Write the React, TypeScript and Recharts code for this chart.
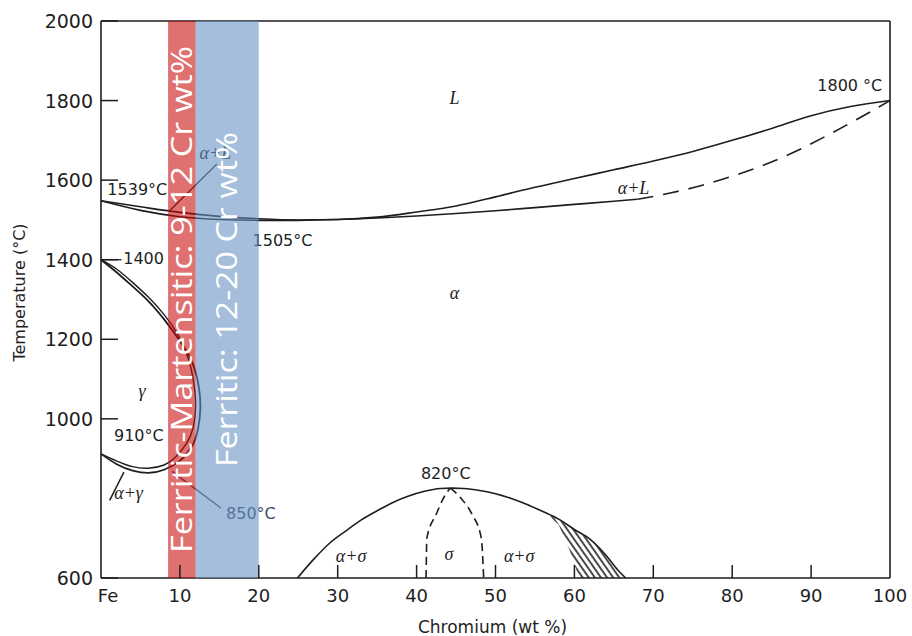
import { ComposedChart, Line, Area, Scatter, XAxis, YAxis, ReferenceArea, ReferenceLine, Label } from "recharts";

// axis ticks (the source has no 800 label)
const xTicks = [0, 10, 20, 30, 40, 50, 60, 70, 80, 90, 100];
const yTicks = [600, 1000, 1200, 1400, 1600, 1800, 2000];

// liquidus (upper L / alpha+L boundary)
const liquidus = [
  { cr: 0, t: 1548 }, { cr: 5, t: 1533 }, { cr: 10, t: 1519 }, { cr: 15, t: 1509 },
  { cr: 20, t: 1503 }, { cr: 25, t: 1500 }, { cr: 30, t: 1501 }, { cr: 35, t: 1507 },
  { cr: 40, t: 1520 }, { cr: 45, t: 1535 }, { cr: 50, t: 1558 }, { cr: 55, t: 1582 },
  { cr: 60, t: 1604 }, { cr: 65, t: 1626 }, { cr: 70, t: 1648 }, { cr: 75, t: 1672 },
  { cr: 80, t: 1700 }, { cr: 85, t: 1730 }, { cr: 90, t: 1762 }, { cr: 95, t: 1785 },
  { cr: 100, t: 1800 },
];

// solidus, measured part
const solidus = [
  { cr: 0, t: 1548 }, { cr: 5, t: 1524 }, { cr: 10, t: 1508 }, { cr: 15, t: 1501 },
  { cr: 20, t: 1499 }, { cr: 25, t: 1499 }, { cr: 30, t: 1501 }, { cr: 35, t: 1505 },
  { cr: 40, t: 1510 }, { cr: 45, t: 1516 }, { cr: 50, t: 1523 }, { cr: 55, t: 1531 },
  { cr: 60, t: 1539 }, { cr: 65, t: 1547 }, { cr: 68, t: 1552 },
];

// solidus, estimated part (dashed)
const solidusEst = [
  { cr: 68, t: 1552 }, { cr: 72, t: 1567 }, { cr: 76, t: 1586 }, { cr: 80, t: 1610 },
  { cr: 84, t: 1638 }, { cr: 88, t: 1672 }, { cr: 92, t: 1712 }, { cr: 96, t: 1755 },
  { cr: 100, t: 1800 },
];

// gamma loop, two boundaries
const gammaOuter = [
  { cr: 0, t: 1400 }, { cr: 2, t: 1368 }, { cr: 4, t: 1333 }, { cr: 6, t: 1296 },
  { cr: 8, t: 1250 }, { cr: 10, t: 1196 }, { cr: 11.6, t: 1140 }, { cr: 12.4, t: 1080 },
  { cr: 12.6, t: 1030 }, { cr: 12.3, t: 975 }, { cr: 11.5, t: 930 }, { cr: 10, t: 895 },
  { cr: 8, t: 872 }, { cr: 6, t: 864 }, { cr: 4, t: 870 }, { cr: 2, t: 886 }, { cr: 0, t: 912 },
];
const gammaInner = [
  { cr: 0, t: 1400 }, { cr: 2, t: 1376 }, { cr: 4, t: 1343 }, { cr: 6, t: 1306 },
  { cr: 8, t: 1262 }, { cr: 9.8, t: 1210 }, { cr: 11.1, t: 1150 }, { cr: 11.8, t: 1085 },
  { cr: 12, t: 1030 }, { cr: 11.7, t: 980 }, { cr: 10.9, t: 940 }, { cr: 9.5, t: 905 },
  { cr: 8, t: 884 }, { cr: 6, t: 876 }, { cr: 4, t: 880 }, { cr: 2, t: 894 }, { cr: 0, t: 912 },
];

// sigma dome
const sigmaDome = [
  { cr: 24.9, t: 600 }, { cr: 27, t: 648 }, { cr: 29, t: 688 }, { cr: 31, t: 718 },
  { cr: 33, t: 746 }, { cr: 35, t: 769 }, { cr: 37, t: 790 }, { cr: 39, t: 806 },
  { cr: 41, t: 818 }, { cr: 43, t: 825 }, { cr: 44.5, t: 826 }, { cr: 46, t: 825 },
  { cr: 48, t: 820 }, { cr: 50, t: 812 }, { cr: 52, t: 800 }, { cr: 54, t: 785 },
  { cr: 56, t: 767 }, { cr: 58, t: 748 }, { cr: 60, t: 722 }, { cr: 62, t: 697 },
  { cr: 64, t: 657 }, { cr: 65.5, t: 620 }, { cr: 66.5, t: 600 },
];
const sigmaLeft = [
  { cr: 41.2, t: 600 }, { cr: 41.3, t: 700 }, { cr: 42.5, t: 761 }, { cr: 43.7, t: 811 }, { cr: 44.3, t: 826 },
];
const sigmaRight = [
  { cr: 44.3, t: 826 }, { cr: 45.6, t: 801 }, { cr: 47, t: 761 }, { cr: 48.2, t: 700 }, { cr: 48.5, t: 600 },
];
const sigmaHatch = [
  { cr: 56, range: [767, 767] }, { cr: 57, range: [752, 757] }, { cr: 58, range: [734, 748] },
  { cr: 59.3, range: [675, 732] }, { cr: 60.6, range: [600, 714] }, { cr: 62, range: [600, 697] },
  { cr: 64, range: [600, 657] }, { cr: 65.5, range: [600, 620] }, { cr: 66.5, range: [600, 600] },
];

// leader lines
const leader1400 = [{ cr: 0, t: 1400 }, { cr: 2.6, t: 1400 }];
const leaderAlphaL = [{ cr: 8.7, t: 1523 }, { cr: 14.7, t: 1641 }];
const leaderAlphaGamma = [{ cr: 1.1, t: 795 }, { cr: 2.9, t: 866 }];
const leader850 = [{ cr: 9, t: 868 }, { cr: 15.2, t: 776 }];

// labels
const tempLabels = [
  { cr: 4.6, t: 1576, text: "1539°C" },
  { cr: 23, t: 1448, text: "1505°C" },
  { cr: 5.4, t: 1404, text: "1400" },
  { cr: 4.8, t: 958, text: "910°C" },
  { cr: 43.7, t: 862, text: "820°C" },
  { cr: 94.9, t: 1838, text: "1800 °C" },
];
const tintLabels = [{ cr: 19, t: 761, text: "850°C" }];
const phaseLabels = [
  { cr: 44.8, t: 1807, text: "L" },
  { cr: 44.8, t: 1317, text: "α" },
  { cr: 5.2, t: 1071, text: "γ" },
  { cr: 67.5, t: 1581, text: "α+L" },
  { cr: 14.5, t: 1669, text: "α+L" },
  { cr: 3.5, t: 813, text: "α+γ" },
  { cr: 44.1, t: 660, text: "σ" },
  { cr: 31.7, t: 655, text: "α+σ" },
  { cr: 53, t: 655, text: "α+σ" },
];

const bands = [
  { from: 8.5, to: 12, color: "#c80a0a", text: "Ferritic-Martensitic: 9-12 Cr wt%", len: 507 },
  { from: 12, to: 20, color: "#648fc3", text: "Ferritic: 12-20 Cr wt%", len: 335 },
];

const INK = "#1e1e1e";
const SANS = "'DejaVu Sans', sans-serif";

const YTick = (p: any) => (
  <g>
    <text x={p.x} y={p.y} textAnchor="end" dominantBaseline="central" fontFamily={SANS} fontSize={19} fill={INK}>
      {p.payload.value}
    </text>
    <line x1={p.x + 8} x2={p.x + 25} y1={p.y} y2={p.y} stroke={INK} strokeWidth={1.5} />
  </g>
);

const XTick = (p: any) => {
  const v = p.payload.value;
  return (
    <g>
      <text x={p.x + (v === 0 ? 7 : 0)} y={p.y + 17} textAnchor="middle" dominantBaseline="central" fontFamily={SANS} fontSize={18} fill={INK}>
        {v === 0 ? "Fe" : v}
      </text>
      {v > 0 && v < 100 && <line x1={p.x} x2={p.x} y1={p.y} y2={p.y - 13} stroke={INK} strokeWidth={1.5} />}
    </g>
  );
};

const tempMark = (color: string) => (p: any) => (
  <text x={p.cx} y={p.cy} textAnchor="middle" dominantBaseline="central" fontFamily={SANS} fontSize={16} fill={color}>
    {p.payload.text}
  </text>
);

const phaseMark = (p: any) => (
  <text x={p.cx} y={p.cy} textAnchor="middle" dominantBaseline="central" fontFamily="'Liberation Serif', serif" fontStyle="italic" fontSize={18} fill={INK}>
    {p.payload.text}
  </text>
);

const bandText = (text: string, len: number) => (p: any) => {
  const vb = p.viewBox;
  const cx = vb.x + vb.width / 2 + 10;
  const cy = vb.y + vb.height / 2;
  return (
    <text x={cx} y={cy} transform={`rotate(-90 ${cx} ${cy})`} textAnchor="middle" fontFamily="'Open Sans', sans-serif" fontSize={29} fill="#fff" textLength={len} lengthAdjust="spacingAndGlyphs">
      {text}
    </text>
  );
};

export default function App() {
  const curve = { dot: false, activeDot: false, isAnimationActive: false, dataKey: "t", stroke: INK, strokeWidth: 1.6 } as any;
  return (
    <div style={{ position: "absolute", left: 0, top: 0, width: 912, height: 636, background: "#fff" }}>
      <ComposedChart width={912} height={636} margin={{ top: 21, right: 22, bottom: 20, left: 0 }}>
        <defs>
          <pattern id="hatch" width="5" height="5" patternUnits="userSpaceOnUse" patternTransform="rotate(-35)">
            <line x1="1" y1="0" x2="1" y2="5" stroke={INK} strokeWidth="1.6" />
          </pattern>
        </defs>
        <XAxis type="number" dataKey="cr" domain={[0, 100]} ticks={xTicks} height={38} tickSize={0} tickMargin={0}
          tick={<XTick />} axisLine={{ stroke: INK, strokeWidth: 1.6 }} tickLine={false}>
          <Label content={(p: any) => (
            <text x={p.viewBox.x + p.viewBox.width / 2 - 3} y={p.viewBox.y + 49} textAnchor="middle" dominantBaseline="central" fontFamily={SANS} fontSize={17} fill={INK}>
              Chromium (wt %)
            </text>
          )} />
        </XAxis>
        <YAxis type="number" dataKey="t" domain={[600, 2000]} ticks={yTicks} width={101} tickSize={0} tickMargin={8}
          tick={<YTick />} axisLine={{ stroke: INK, strokeWidth: 1.6 }} tickLine={false}>
          <Label content={(p: any) => {
            const x = 19;
            const y = p.viewBox.y + p.viewBox.height / 2 - 7;
            return (
              <text x={x} y={y} transform={`rotate(-90 ${x} ${y})`} textAnchor="middle" dominantBaseline="central" fontFamily={SANS} fontSize={16} fill={INK}>
                Temperature (°C)
              </text>
            );
          }} />
        </YAxis>
        <ReferenceLine y={2000} stroke={INK} strokeWidth={1.6} />
        <ReferenceLine x={100} stroke={INK} strokeWidth={1.6} />

        <Area data={sigmaHatch} dataKey="range" type="linear" stroke="none" fill="url(#hatch)" fillOpacity={1} isAnimationActive={false} dot={false} activeDot={false} />

        <Line {...curve} data={liquidus} type="monotone" />
        <Line {...curve} data={solidus} type="monotone" />
        <Line {...curve} data={solidusEst} type="monotone" strokeDasharray="16 10" />
        <Line {...curve} data={gammaOuter} type="natural" strokeWidth={1.8} />
        <Line {...curve} data={gammaInner} type="natural" strokeWidth={1.4} />
        <Line {...curve} data={sigmaDome} type="monotone" />
        <Line {...curve} data={sigmaLeft} type="monotone" strokeDasharray="8 5" />
        <Line {...curve} data={sigmaRight} type="monotone" strokeDasharray="8 5" />
        <Line {...curve} data={leader1400} type="linear" strokeWidth={1.3} />
        <Line {...curve} data={leaderAlphaL} type="linear" strokeWidth={1.2} />
        <Line {...curve} data={leaderAlphaGamma} type="linear" strokeWidth={1.5} />
        <Line {...curve} data={leader850} type="linear" strokeWidth={1.3} stroke="#3b4c6b" />

        <Scatter data={tempLabels} dataKey="t" shape={tempMark(INK)} isAnimationActive={false} />
        <Scatter data={tintLabels} dataKey="t" shape={tempMark("#3b4c6b")} isAnimationActive={false} />
        <Scatter data={phaseLabels} dataKey="t" shape={phaseMark} isAnimationActive={false} />

        {bands.map((b) => (
          <ReferenceArea key={b.text} x1={b.from} x2={b.to} y1={600} y2={2000} fill={b.color} fillOpacity={0.58} stroke="none" zIndex={700}>
            <Label content={bandText(b.text, b.len)} />
          </ReferenceArea>
        ))}
      </ComposedChart>
    </div>
  );
}
